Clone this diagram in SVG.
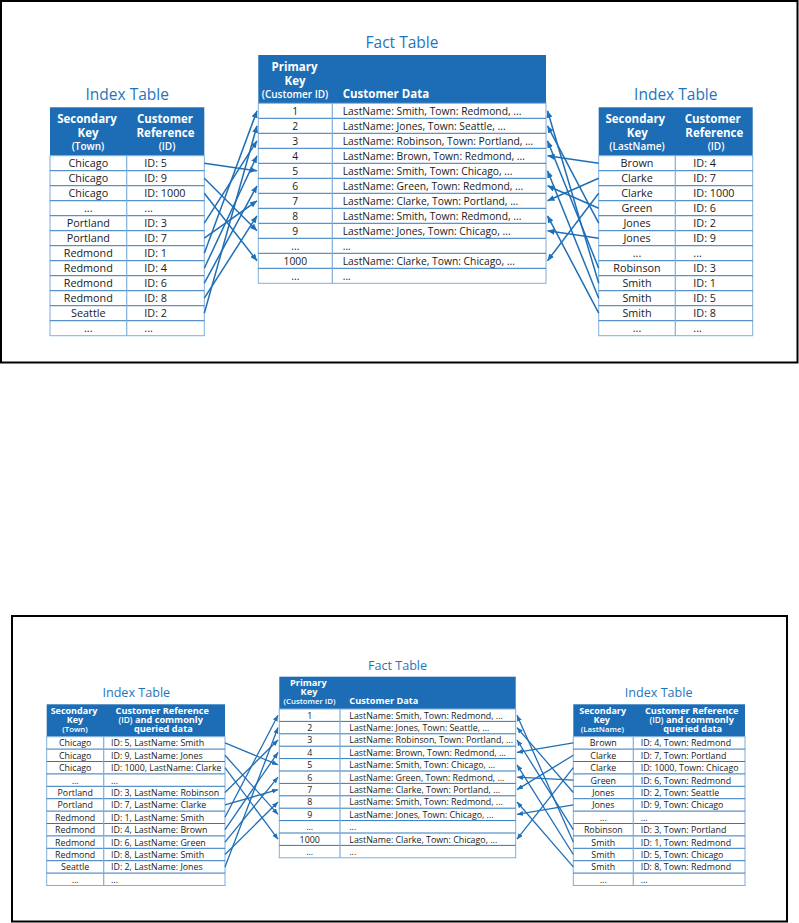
<svg xmlns="http://www.w3.org/2000/svg" width="799" height="923" viewBox="0 0 799 923">
<style>
.frame{fill:none;stroke:#000;stroke-width:2}
.hdr{fill:#1c6db5}
.body{fill:#fff;stroke:#7eaedc;stroke-width:1}
.hl{stroke:#2f78bf;stroke-width:1}
.vl{stroke:#7eaedc;stroke-width:1.2}
.t{font-family:"Open Sans","Noto Sans",sans-serif;fill:#1f75bd;text-anchor:middle}
.h{font-family:"Open Sans","Noto Sans",sans-serif;fill:#fff;font-weight:700}
.hs{font-family:"Open Sans","Noto Sans",sans-serif;fill:#fff;font-weight:600}
.d{font-family:"Open Sans","Noto Sans",sans-serif;fill:#1a1a1a}
.m{text-anchor:middle}
.a1{stroke:#1f6fb7;stroke-width:1.5;fill:none;marker-end:url(#ah1)}
.a2{stroke:#1f6fb7;stroke-width:1.3;fill:none;marker-end:url(#ah2)}
</style>
<defs>
<marker id="ah1" markerUnits="userSpaceOnUse" markerWidth="7" markerHeight="6" refX="7" refY="3" orient="auto"><path d="M0,0 L7,3 L0,6 z" fill="#1f6fb7"/></marker>
<marker id="ah2" markerUnits="userSpaceOnUse" markerWidth="6" markerHeight="5" refX="6" refY="2.5" orient="auto"><path d="M0,0 L6,2.5 L0,5 z" fill="#1f6fb7"/></marker>
</defs>
<rect class="frame" x="1" y="1" width="796.5" height="361.5"/>
<rect class="frame" x="12" y="616" width="775" height="305.5"/>

<!-- TOP: left index table -->
<g id="top-index-town">
<text class="t" x="127.2" y="100" font-size="15.5">Index Table</text>
<rect class="hdr" x="50" y="107.3" width="154.3" height="48.4"/>
<rect class="body" x="50" y="155.7" width="154.3" height="180"/>
<g class="hl"><line x1="50" x2="204.3" y1="170.7" y2="170.7"/><line x1="50" x2="204.3" y1="185.7" y2="185.7"/><line x1="50" x2="204.3" y1="200.7" y2="200.7"/><line x1="50" x2="204.3" y1="215.7" y2="215.7"/><line x1="50" x2="204.3" y1="230.7" y2="230.7"/><line x1="50" x2="204.3" y1="245.7" y2="245.7"/><line x1="50" x2="204.3" y1="260.7" y2="260.7"/><line x1="50" x2="204.3" y1="275.7" y2="275.7"/><line x1="50" x2="204.3" y1="290.7" y2="290.7"/><line x1="50" x2="204.3" y1="305.7" y2="305.7"/><line x1="50" x2="204.3" y1="320.7" y2="320.7"/></g>
<line class="vl" x1="126.7" x2="126.7" y1="155.7" y2="335.7"/>
<text class="h m" x="87" y="122.7" font-size="11.5">Secondary</text>
<text class="h m" x="88" y="137.3" font-size="11.5">Key</text>
<text class="hs m" x="88" y="150" font-size="10">(Town)</text>
<text class="h m" x="165" y="122.7" font-size="11.5">Customer</text>
<text class="h m" x="165.5" y="137.3" font-size="11.5">Reference</text>
<text class="hs m" x="167" y="150" font-size="10">(ID)</text>
<g class="d" font-size="10.8">
<text class="m" x="88.3" y="167.2">Chicago</text><text x="144.3" y="167.2">ID: 5</text>
<text class="m" x="88.3" y="182.2">Chicago</text><text x="144.3" y="182.2">ID: 9</text>
<text class="m" x="88.3" y="197.2">Chicago</text><text x="144.3" y="197.2">ID: 1000</text>
<text class="m" x="88.3" y="212.2">...</text><text x="144.3" y="212.2">...</text>
<text class="m" x="88.3" y="227.2">Portland</text><text x="144.3" y="227.2">ID: 3</text>
<text class="m" x="88.3" y="242.2">Portland</text><text x="144.3" y="242.2">ID: 7</text>
<text class="m" x="88.3" y="257.2">Redmond</text><text x="144.3" y="257.2">ID: 1</text>
<text class="m" x="88.3" y="272.2">Redmond</text><text x="144.3" y="272.2">ID: 4</text>
<text class="m" x="88.3" y="287.2">Redmond</text><text x="144.3" y="287.2">ID: 6</text>
<text class="m" x="88.3" y="302.2">Redmond</text><text x="144.3" y="302.2">ID: 8</text>
<text class="m" x="88.3" y="317.2">Seattle</text><text x="144.3" y="317.2">ID: 2</text>
<text class="m" x="88.3" y="332.2">...</text><text x="144.3" y="332.2">...</text>
</g>
</g>

<!-- TOP: fact table -->
<g id="top-fact">
<text class="t" x="402" y="47.7" font-size="15.5">Fact Table</text>
<rect class="hdr" x="258.3" y="55" width="287.7" height="48.3"/>
<rect class="body" x="258.3" y="103.3" width="287.7" height="180"/>
<g class="hl"><line x1="258.3" x2="546" y1="118.3" y2="118.3"/><line x1="258.3" x2="546" y1="133.3" y2="133.3"/><line x1="258.3" x2="546" y1="148.3" y2="148.3"/><line x1="258.3" x2="546" y1="163.3" y2="163.3"/><line x1="258.3" x2="546" y1="178.3" y2="178.3"/><line x1="258.3" x2="546" y1="193.3" y2="193.3"/><line x1="258.3" x2="546" y1="208.3" y2="208.3"/><line x1="258.3" x2="546" y1="223.3" y2="223.3"/><line x1="258.3" x2="546" y1="238.3" y2="238.3"/><line x1="258.3" x2="546" y1="253.3" y2="253.3"/><line x1="258.3" x2="546" y1="268.3" y2="268.3"/></g>
<line class="vl" x1="332.3" x2="332.3" y1="103.3" y2="283.3"/>
<text class="h m" x="294.5" y="70.7" font-size="11.5">Primary</text>
<text class="h m" x="295" y="84.5" font-size="11.5">Key</text>
<text class="hs m" x="295" y="97.5" font-size="10">(Customer ID)</text>
<text class="h" x="342.7" y="97.5" font-size="11.5">Customer Data</text>
<g class="d" font-size="10.3">
<text class="m" x="295.3" y="114.8">1</text><text x="342.7" y="114.8">LastName: Smith, Town: Redmond, ...</text>
<text class="m" x="295.3" y="129.8">2</text><text x="342.7" y="129.8">LastName: Jones, Town: Seattle, ...</text>
<text class="m" x="295.3" y="144.8">3</text><text x="342.7" y="144.8">LastName: Robinson, Town: Portland, ...</text>
<text class="m" x="295.3" y="159.8">4</text><text x="342.7" y="159.8">LastName: Brown, Town: Redmond, ...</text>
<text class="m" x="295.3" y="174.8">5</text><text x="342.7" y="174.8">LastName: Smith, Town: Chicago, ...</text>
<text class="m" x="295.3" y="189.8">6</text><text x="342.7" y="189.8">LastName: Green, Town: Redmond, ...</text>
<text class="m" x="295.3" y="204.8">7</text><text x="342.7" y="204.8">LastName: Clarke, Town: Portland, ...</text>
<text class="m" x="295.3" y="219.8">8</text><text x="342.7" y="219.8">LastName: Smith, Town: Redmond, ...</text>
<text class="m" x="295.3" y="234.8">9</text><text x="342.7" y="234.8">LastName: Jones, Town: Chicago, ...</text>
<text class="m" x="295.3" y="249.8">...</text><text x="342.7" y="249.8">...</text>
<text class="m" x="295.3" y="264.8">1000</text><text x="342.7" y="264.8">LastName: Clarke, Town: Chicago, ...</text>
<text class="m" x="295.3" y="279.8">...</text><text x="342.7" y="279.8">...</text>
</g>
</g>

<!-- TOP: right index table -->
<g id="top-index-lastname">
<text class="t" x="675.8" y="100" font-size="15.5">Index Table</text>
<rect class="hdr" x="598.7" y="107.3" width="154" height="48.4"/>
<rect class="body" x="598.7" y="155.7" width="154" height="180"/>
<g class="hl"><line x1="598.7" x2="752.7" y1="170.7" y2="170.7"/><line x1="598.7" x2="752.7" y1="185.7" y2="185.7"/><line x1="598.7" x2="752.7" y1="200.7" y2="200.7"/><line x1="598.7" x2="752.7" y1="215.7" y2="215.7"/><line x1="598.7" x2="752.7" y1="230.7" y2="230.7"/><line x1="598.7" x2="752.7" y1="245.7" y2="245.7"/><line x1="598.7" x2="752.7" y1="260.7" y2="260.7"/><line x1="598.7" x2="752.7" y1="275.7" y2="275.7"/><line x1="598.7" x2="752.7" y1="290.7" y2="290.7"/><line x1="598.7" x2="752.7" y1="305.7" y2="305.7"/><line x1="598.7" x2="752.7" y1="320.7" y2="320.7"/></g>
<line class="vl" x1="675.3" x2="675.3" y1="155.7" y2="335.7"/>
<text class="h m" x="635.3" y="122.7" font-size="11.5">Secondary</text>
<text class="h m" x="637.3" y="137.3" font-size="11.5">Key</text>
<text class="hs m" x="637" y="150" font-size="10">(LastName)</text>
<text class="h m" x="712.7" y="122.7" font-size="11.5">Customer</text>
<text class="h m" x="714.3" y="137.3" font-size="11.5">Reference</text>
<text class="hs m" x="716" y="150" font-size="10">(ID)</text>
<g class="d" font-size="10.8">
<text class="m" x="637" y="167.2">Brown</text><text x="693.3" y="167.2">ID: 4</text>
<text class="m" x="637" y="182.2">Clarke</text><text x="693.3" y="182.2">ID: 7</text>
<text class="m" x="637" y="197.2">Clarke</text><text x="693.3" y="197.2">ID: 1000</text>
<text class="m" x="637" y="212.2">Green</text><text x="693.3" y="212.2">ID: 6</text>
<text class="m" x="637" y="227.2">Jones</text><text x="693.3" y="227.2">ID: 2</text>
<text class="m" x="637" y="242.2">Jones</text><text x="693.3" y="242.2">ID: 9</text>
<text class="m" x="637" y="257.2">...</text><text x="693.3" y="257.2">...</text>
<text class="m" x="637" y="272.2">Robinson</text><text x="693.3" y="272.2">ID: 3</text>
<text class="m" x="637" y="287.2">Smith</text><text x="693.3" y="287.2">ID: 1</text>
<text class="m" x="637" y="302.2">Smith</text><text x="693.3" y="302.2">ID: 5</text>
<text class="m" x="637" y="317.2">Smith</text><text x="693.3" y="317.2">ID: 8</text>
<text class="m" x="637" y="332.2">...</text><text x="693.3" y="332.2">...</text>
</g>
</g>

<!-- BOTTOM: left index table -->
<g id="bottom-index-town">
<text class="t" x="136.3" y="697.3" font-size="12.6">Index Table</text>
<rect class="hdr" x="46.7" y="704.3" width="178.3" height="32.4"/>
<rect class="body" x="46.7" y="736.7" width="178.3" height="148.8"/>
<g class="hl"><line x1="46.7" x2="225" y1="749.1" y2="749.1"/><line x1="46.7" x2="225" y1="761.5" y2="761.5"/><line x1="46.7" x2="225" y1="773.9" y2="773.9"/><line x1="46.7" x2="225" y1="786.3" y2="786.3"/><line x1="46.7" x2="225" y1="798.7" y2="798.7"/><line x1="46.7" x2="225" y1="811.1" y2="811.1"/><line x1="46.7" x2="225" y1="823.5" y2="823.5"/><line x1="46.7" x2="225" y1="835.9" y2="835.9"/><line x1="46.7" x2="225" y1="848.3" y2="848.3"/><line x1="46.7" x2="225" y1="860.7" y2="860.7"/><line x1="46.7" x2="225" y1="873.1" y2="873.1"/></g>
<line class="vl" x1="103.7" x2="103.7" y1="736.7" y2="885.5"/>
<text class="h m" x="74" y="714" font-size="9">Secondary</text>
<text class="h m" x="75" y="723" font-size="9">Key</text>
<text class="hs m" x="75" y="731.7" font-size="7.8">(Town)</text>
<text class="h m" x="162.3" y="714" font-size="9.2">Customer Reference</text>
<text class="h m" x="160.7" y="723" font-size="9.2"><tspan font-weight="600" font-size="8.4">(ID)</tspan> and commonly</text>
<text class="h m" x="163.3" y="731.7" font-size="9.2">queried data</text>
<g class="d" font-size="8.85">
<text class="m" x="75.2" y="746.3">Chicago</text><text x="111" y="746.3">ID: 5, LastName: Smith</text>
<text class="m" x="75.2" y="758.7">Chicago</text><text x="111" y="758.7">ID: 9, LastName: Jones</text>
<text class="m" x="75.2" y="771.1">Chicago</text><text x="111" y="771.1">ID: 1000, LastName: Clarke</text>
<text class="m" x="75.2" y="783.5">...</text><text x="111" y="783.5">...</text>
<text class="m" x="75.2" y="795.9">Portland</text><text x="111" y="795.9">ID: 3, LastName: Robinson</text>
<text class="m" x="75.2" y="808.3">Portland</text><text x="111" y="808.3">ID: 7, LastName: Clarke</text>
<text class="m" x="75.2" y="820.7">Redmond</text><text x="111" y="820.7">ID: 1, LastName: Smith</text>
<text class="m" x="75.2" y="833.1">Redmond</text><text x="111" y="833.1">ID: 4, LastName: Brown</text>
<text class="m" x="75.2" y="845.5">Redmond</text><text x="111" y="845.5">ID: 6, LastName: Green</text>
<text class="m" x="75.2" y="857.9">Redmond</text><text x="111" y="857.9">ID: 8, LastName: Smith</text>
<text class="m" x="75.2" y="870.3">Seattle</text><text x="111" y="870.3">ID: 2, LastName: Jones</text>
<text class="m" x="75.2" y="882.7">...</text><text x="111" y="882.7">...</text>
</g>
</g>

<!-- BOTTOM: fact table -->
<g id="bottom-fact">
<text class="t" x="397.5" y="670" font-size="12.6">Fact Table</text>
<rect class="hdr" x="279.3" y="676.7" width="236.4" height="32.3"/>
<rect class="body" x="279.3" y="709" width="236.4" height="148.8"/>
<g class="hl"><line x1="279.3" x2="515.7" y1="721.4" y2="721.4"/><line x1="279.3" x2="515.7" y1="733.8" y2="733.8"/><line x1="279.3" x2="515.7" y1="746.2" y2="746.2"/><line x1="279.3" x2="515.7" y1="758.6" y2="758.6"/><line x1="279.3" x2="515.7" y1="771" y2="771"/><line x1="279.3" x2="515.7" y1="783.4" y2="783.4"/><line x1="279.3" x2="515.7" y1="795.8" y2="795.8"/><line x1="279.3" x2="515.7" y1="808.2" y2="808.2"/><line x1="279.3" x2="515.7" y1="820.6" y2="820.6"/><line x1="279.3" x2="515.7" y1="833" y2="833"/><line x1="279.3" x2="515.7" y1="845.4" y2="845.4"/></g>
<line class="vl" x1="340" x2="340" y1="709" y2="857.8"/>
<text class="h m" x="308.3" y="686" font-size="9.2">Primary</text>
<text class="h m" x="309" y="694.7" font-size="9.2">Key</text>
<text class="hs m" x="309.5" y="704" font-size="7.8">(Customer ID)</text>
<text class="h" x="349.3" y="704" font-size="9.2">Customer Data</text>
<g class="d" font-size="8.85">
<text class="m" x="309.7" y="718.6">1</text><text x="349.3" y="718.6">LastName: Smith, Town: Redmond, ...</text>
<text class="m" x="309.7" y="731">2</text><text x="349.3" y="731">LastName: Jones, Town: Seattle, ...</text>
<text class="m" x="309.7" y="743.4">3</text><text x="349.3" y="743.4">LastName: Robinson, Town: Portland, ...</text>
<text class="m" x="309.7" y="755.8">4</text><text x="349.3" y="755.8">LastName: Brown, Town: Redmond, ...</text>
<text class="m" x="309.7" y="768.2">5</text><text x="349.3" y="768.2">LastName: Smith, Town: Chicago, ...</text>
<text class="m" x="309.7" y="780.6">6</text><text x="349.3" y="780.6">LastName: Green, Town: Redmond, ...</text>
<text class="m" x="309.7" y="793">7</text><text x="349.3" y="793">LastName: Clarke, Town: Portland, ...</text>
<text class="m" x="309.7" y="805.4">8</text><text x="349.3" y="805.4">LastName: Smith, Town: Redmond, ...</text>
<text class="m" x="309.7" y="817.8">9</text><text x="349.3" y="817.8">LastName: Jones, Town: Chicago, ...</text>
<text class="m" x="309.7" y="830.2">...</text><text x="349.3" y="830.2">...</text>
<text class="m" x="309.7" y="842.6">1000</text><text x="349.3" y="842.6">LastName: Clarke, Town: Chicago, ...</text>
<text class="m" x="309.7" y="855">...</text><text x="349.3" y="855">...</text>
</g>
</g>

<!-- BOTTOM: right index table -->
<g id="bottom-index-lastname">
<text class="t" x="658.7" y="697.3" font-size="12.6">Index Table</text>
<rect class="hdr" x="573.3" y="704.3" width="171.7" height="32.4"/>
<rect class="body" x="573.3" y="736.7" width="171.7" height="148.8"/>
<g class="hl"><line x1="573.3" x2="745" y1="749.1" y2="749.1"/><line x1="573.3" x2="745" y1="761.5" y2="761.5"/><line x1="573.3" x2="745" y1="773.9" y2="773.9"/><line x1="573.3" x2="745" y1="786.3" y2="786.3"/><line x1="573.3" x2="745" y1="798.7" y2="798.7"/><line x1="573.3" x2="745" y1="811.1" y2="811.1"/><line x1="573.3" x2="745" y1="823.5" y2="823.5"/><line x1="573.3" x2="745" y1="835.9" y2="835.9"/><line x1="573.3" x2="745" y1="848.3" y2="848.3"/><line x1="573.3" x2="745" y1="860.7" y2="860.7"/><line x1="573.3" x2="745" y1="873.1" y2="873.1"/></g>
<line class="vl" x1="633.3" x2="633.3" y1="736.7" y2="885.5"/>
<text class="h m" x="602.7" y="714" font-size="9">Secondary</text>
<text class="h m" x="601.7" y="723" font-size="9">Key</text>
<text class="hs m" x="602.3" y="731.7" font-size="7.8">(LastName)</text>
<text class="h m" x="691.7" y="714" font-size="9.2">Customer Reference</text>
<text class="h m" x="691.7" y="723" font-size="9.2"><tspan font-weight="600" font-size="8.4">(ID)</tspan> and commonly</text>
<text class="h m" x="692.7" y="731.7" font-size="9.2">queried data</text>
<g class="d" font-size="8.85">
<text class="m" x="603.3" y="746.3">Brown</text><text x="640.7" y="746.3">ID: 4, Town: Redmond</text>
<text class="m" x="603.3" y="758.7">Clarke</text><text x="640.7" y="758.7">ID: 7, Town: Portland</text>
<text class="m" x="603.3" y="771.1">Clarke</text><text x="640.7" y="771.1">ID: 1000, Town: Chicago</text>
<text class="m" x="603.3" y="783.5">Green</text><text x="640.7" y="783.5">ID: 6, Town: Redmond</text>
<text class="m" x="603.3" y="795.9">Jones</text><text x="640.7" y="795.9">ID: 2, Town: Seattle</text>
<text class="m" x="603.3" y="808.3">Jones</text><text x="640.7" y="808.3">ID: 9, Town: Chicago</text>
<text class="m" x="603.3" y="820.7">...</text><text x="640.7" y="820.7">...</text>
<text class="m" x="603.3" y="833.1">Robinson</text><text x="640.7" y="833.1">ID: 3, Town: Portland</text>
<text class="m" x="603.3" y="845.5">Smith</text><text x="640.7" y="845.5">ID: 1, Town: Redmond</text>
<text class="m" x="603.3" y="857.9">Smith</text><text x="640.7" y="857.9">ID: 5, Town: Chicago</text>
<text class="m" x="603.3" y="870.3">Smith</text><text x="640.7" y="870.3">ID: 8, Town: Redmond</text>
<text class="m" x="603.3" y="882.7">...</text><text x="640.7" y="882.7">...</text>
</g>
</g>

<g id="connectors">
<!-- top left -->
<line class="a1" x1="204.3" y1="163.2" x2="257" y2="170.8"/>
<line class="a1" x1="204.3" y1="178.2" x2="257" y2="230.8"/>
<line class="a1" x1="204.3" y1="193.2" x2="257" y2="260.8"/>
<line class="a1" x1="204.3" y1="223.2" x2="257" y2="140.8"/>
<line class="a1" x1="204.3" y1="238.2" x2="257" y2="200.8"/>
<line class="a1" x1="204.3" y1="253.2" x2="257" y2="110.8"/>
<line class="a1" x1="204.3" y1="268.2" x2="257" y2="155.8"/>
<line class="a1" x1="204.3" y1="283.2" x2="257" y2="185.8"/>
<line class="a1" x1="204.3" y1="298.2" x2="257" y2="215.8"/>
<line class="a1" x1="204.3" y1="313.2" x2="257" y2="125.8"/>
<!-- top right -->
<line class="a1" x1="598.7" y1="163.2" x2="547.5" y2="155.8"/>
<line class="a1" x1="598.7" y1="178.2" x2="547.5" y2="200.8"/>
<line class="a1" x1="598.7" y1="193.2" x2="547.5" y2="260.8"/>
<line class="a1" x1="598.7" y1="208.2" x2="547.5" y2="185.8"/>
<line class="a1" x1="598.7" y1="223.2" x2="547.5" y2="125.8"/>
<line class="a1" x1="598.7" y1="238.2" x2="547.5" y2="230.8"/>
<line class="a1" x1="598.7" y1="268.2" x2="547.5" y2="140.8"/>
<line class="a1" x1="598.7" y1="283.2" x2="547.5" y2="110.8"/>
<line class="a1" x1="598.7" y1="298.2" x2="547.5" y2="170.8"/>
<line class="a1" x1="598.7" y1="313.2" x2="547.5" y2="215.8"/>
<!-- bottom left -->
<line class="a2" x1="225" y1="742.9" x2="278" y2="764.8"/>
<line class="a2" x1="225" y1="755.3" x2="278" y2="814.4"/>
<line class="a2" x1="225" y1="767.7" x2="278" y2="839.2"/>
<line class="a2" x1="225" y1="792.5" x2="278" y2="740"/>
<line class="a2" x1="225" y1="804.9" x2="278" y2="789.6"/>
<line class="a2" x1="225" y1="817.3" x2="278" y2="715.2"/>
<line class="a2" x1="225" y1="829.7" x2="278" y2="752.4"/>
<line class="a2" x1="225" y1="842.1" x2="278" y2="777.2"/>
<line class="a2" x1="225" y1="854.5" x2="278" y2="802"/>
<line class="a2" x1="225" y1="866.9" x2="278" y2="727.6"/>
<!-- bottom right -->
<line class="a2" x1="573.3" y1="742.9" x2="517" y2="752.4"/>
<line class="a2" x1="573.3" y1="755.3" x2="517" y2="789.6"/>
<line class="a2" x1="573.3" y1="767.7" x2="517" y2="839.2"/>
<line class="a2" x1="573.3" y1="780.1" x2="517" y2="777.2"/>
<line class="a2" x1="573.3" y1="792.5" x2="517" y2="727.6"/>
<line class="a2" x1="573.3" y1="804.9" x2="517" y2="814.4"/>
<line class="a2" x1="573.3" y1="829.7" x2="517" y2="740"/>
<line class="a2" x1="573.3" y1="842.1" x2="517" y2="715.2"/>
<line class="a2" x1="573.3" y1="854.5" x2="517" y2="764.8"/>
<line class="a2" x1="573.3" y1="866.9" x2="517" y2="802"/>
</g>
</svg>
